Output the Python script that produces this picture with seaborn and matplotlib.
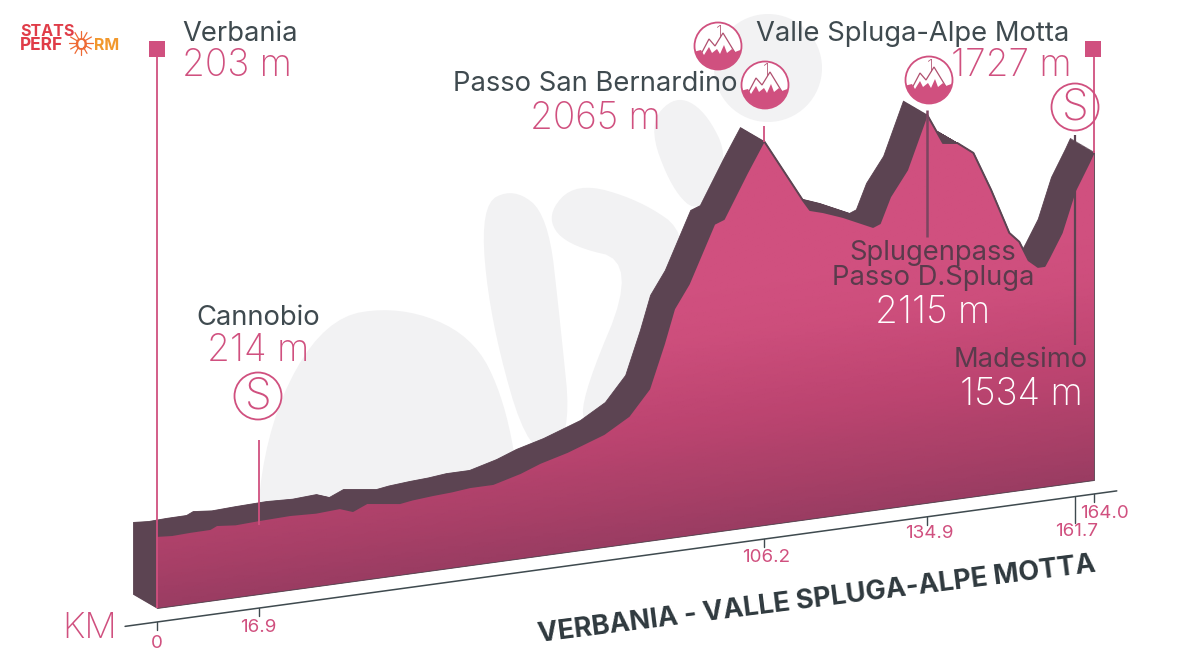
import numpy as np
import pandas as pd
import seaborn as sns
import matplotlib
matplotlib.use("Agg")
import matplotlib.pyplot as plt
from matplotlib.colors import LinearSegmentedColormap, Normalize
from matplotlib.patches import Circle, Polygon, Rectangle
from matplotlib.path import Path
from matplotlib.transforms import Affine2D, blended_transform_factory

# ---------- data ----------
km = [0, 2.5, 5.5, 8.8, 9.9, 13, 16.9, 22.4, 27, 31.2, 33.5, 36, 41.8, 44, 47.7, 51, 54.2, 58.3, 63.1, 66.6, 71.4,
      77.9, 82.3, 85.9, 88.5, 90.3, 92.9, 97.4, 99.1, 103.2, 106.2, 113, 114.3, 116.6, 120.1,
      125.4, 126.6, 128.4, 131.4, 134.9, 137.8, 140.4, 143.3, 146.5, 149.8, 151.6, 153.3, 155, 156.2, 157,
      159.3, 161.7, 163.4, 164]
elevation = [203, 196, 200, 201, 219, 208, 214, 219, 212, 220, 192, 228, 201, 212, 222, 228, 239, 239, 282, 326, 369,
             446, 533, 678, 933, 1134, 1270, 1607, 1628, 1884, 2060, 1678, 1612, 1589, 1544,
             1460, 1476, 1625, 1772, 2085, 1903, 1891, 1819, 1585, 1314, 1253, 1135, 1088, 1088, 1133,
             1272, 1510, 1667, 1727]
tick_km = [0, 16.9, 106.2, 134.9, 161.7, 164.0]
tick_labels = ["0", "16.9", "106.2", "134.9", "161.7", "164.0"]
title = "VERBANIA - VALLE SPLUGA-ALPE MOTTA"

# ---------- style ----------
PINK, DARK, GREY, WMARK = "#d0507f", "#5c4452", "#3f4a4f", "#f2f2f3"
FONT = "Inter"
W, H = 1200, 663
sns.set_theme(style="white")
plt.rcParams["font.family"] = [FONT, "DejaVu Sans"]

fig = plt.figure(figsize=(12, 6.63), dpi=100, facecolor="white")
ax = fig.add_axes([0, 0, 1, 1])
ax.set_axis_off()

# horizontal scale of the artwork: km ticks are not evenly spaced
anchor_km = np.array([-40, 0, 16.9, 106.2, 134.9, 161.7, 164, 200.0])
anchor_px = np.array([-71, 157, 259, 764, 927, 1075, 1094, 1299.0])
fwd = lambda v: np.interp(v, anchor_km, anchor_px)
inv = lambda v: np.interp(v, anchor_px, anchor_km)
ax.set_xscale("function", functions=(fwd, inv))
ax.set_xlim(inv(0.0), inv(float(W)))
# vertical scale: 0.168 px per metre, the floor of the solid at -226 m
PXM = 0.168
FLOOR = -226
ax.set_ylim(FLOOR - (H - 608) / PXM, FLOOR + 608 / PXM)
ax.autoscale(False)

# perspective: the baseline climbs to the right
SHEAR = 0.1366
shear = Affine2D(np.array([[1, 0, 0], [SHEAR, 1, -SHEAR * 157], [0, 0, 1]], float))
tr = ax.transData + shear
pix = Affine2D().scale(1, -1).translate(0, H)
xpix = blended_transform_factory(ax.transData, pix)


def chaikin(pts, n=3):
    p = np.array(pts, float)
    for _ in range(n):
        q = np.roll(p, -1, axis=0)
        p = np.column_stack([0.75 * p + 0.25 * q, 0.25 * p + 0.75 * q]).reshape(-1, 2)
    return p


# ---------- watermark ----------
blobs = [
    [(252, 560), (268, 420), (325, 318), (400, 306), (472, 335), (505, 400), (522, 500), (400, 560)],
    [(514, 188), (480, 205), (490, 320), (530, 460), (572, 440), (560, 320), (548, 215)],
    [(546, 215), (576, 182), (640, 200), (690, 235), (670, 330), (590, 430), (578, 405), (638, 262), (565, 245)],
    [(648, 125), (675, 95), (705, 110), (730, 160), (700, 215), (672, 190)],
]
for b in blobs:
    ax.add_patch(Polygon(chaikin(b), closed=True, fc=WMARK, ec="none", transform=pix, zorder=1))
ax.add_patch(Circle((768, 68), 54, fc=WMARK, ec="none", transform=pix, zorder=1))

# ---------- solid: side band, front face ----------
km_a = np.array(km, float)
el_a = np.array(elevation, float)
for t in np.linspace(0, 1, 30):
    back = tr + Affine2D().translate(-24 * t, 14 * t)
    ax.fill_between(km_a, el_a, FLOOR, color=DARK, lw=0.6, transform=back, zorder=2)

cmap = LinearSegmentedColormap.from_list(
    "stage", [(0, "#9a3c62"), (0.2, "#aa4068"), (0.45, "#bc4470"), (0.8, "#cd4e7c"), (1, "#d0507f")])
gx = np.linspace(0, 164, 40)
gy = np.linspace(FLOOR, 2300, 60)
GX, GY = np.meshgrid(gx, gy)
mesh = ax.pcolormesh(GX, GY, GY, cmap=cmap, norm=Normalize(FLOOR, 1250), shading="gouraud",
                     transform=tr, zorder=3)
outline = np.vstack([np.column_stack([km_a, el_a]), [km_a[-1], FLOOR], [km_a[0], FLOOR], [km_a[0], el_a[0]]])
mesh.set_clip_path(Path(outline), tr)
profile = pd.DataFrame({"km": km_a, "elevation": el_a})
sns.lineplot(data=profile, x="km", y="elevation", color=DARK, lw=1.4, sort=False, errorbar=None,
             legend=False, transform=tr, zorder=4, ax=ax)
ax.set_xlabel("")
ax.set_ylabel("")

# ---------- km axis ----------
AXIS_ELEV = FLOOR - 14 / PXM
ax.plot([-5.6, 168], [AXIS_ELEV, AXIS_ELEV], color=GREY, lw=1.1, transform=tr, zorder=2)
for k in tick_km:
    drop = 26 if k == 161.7 else 8
    ax.plot([k, k], [AXIS_ELEV, AXIS_ELEV - drop / PXM], color=GREY, lw=1.0, transform=tr, zorder=2)
tick_pos = [(157, 643), (258, 628), (766, 557), (929, 534), (1077, 532), (1104, 513)]
for lab, (x, y) in zip(tick_labels, tick_pos):
    ax.text(x, y, lab, transform=pix, ha="center", va="center", color=PINK, fontsize=13.5)

# ---------- climbs and markers ----------
def vline(k, y0, y1, color, lw=1.3, z=5):
    ax.plot([k, k], [y0, y1], color=color, lw=lw, transform=xpix, zorder=z, solid_capstyle="butt")

vline(0, 55, 608, PINK)
vline(164, 55, 153, PINK, z=6)
vline(16.9, 440, 525, PINK)
vline(106.2, 126, 142, PINK)
vline(134.9, 110, 237, "#7c4560", lw=1.8)
vline(161.7, 135, 345, DARK, lw=1.6, z=7)
for cx in (157, 1093):
    ax.add_patch(Rectangle((cx - 8, 41), 16, 16, fc=PINK, ec="none", transform=pix, zorder=6))


def s_badge(cx, cy):
    ax.add_patch(Circle((cx, cy), 23.5, fc="none", ec=PINK, lw=1.3, transform=pix, zorder=8))
    ax.text(cx, cy + 1, "S", transform=pix, ha="center", va="center", color=PINK, fontsize=31,
            fontweight="light", zorder=8)


def peak_icon(cx, cy):
    circ = Circle((cx, cy), 23.5, fc="white", ec=PINK, lw=1.3, transform=pix, zorder=8)
    ax.add_patch(circ)
    o = np.array([cx, cy])
    snow = np.array([(-19, 12), (-9, -7), (-3, 0), (5, -13), (19, 10), (12, 12), (-14, 14)], float)
    ax.add_patch(Polygon(snow + o, closed=True, fc="white", ec="#b0506f", lw=0.9, transform=pix, zorder=9))
    foot = np.array([(-25, 26), (-25, 6), (-17, 4), (-14, 9), (-9, 1), (-6, 7), (-1, 3), (2, 8),
                     (6, -1), (9, 7), (14, 3), (17, 6), (25, 3), (25, 26)], float)
    pg = Polygon(foot + o, closed=True, fc=PINK, ec="none", transform=pix, zorder=10)
    ax.add_patch(pg)
    pg.set_clip_path(Circle((cx, cy), 23.2, transform=pix))
    ax.text(cx + 1, cy - 13, "1", transform=pix, ha="center", va="center", color="#b0506f", fontsize=13,
            fontweight="light", zorder=10)


s_badge(258, 396)
s_badge(1075, 107)
peak_icon(718, 46)
peak_icon(765, 85)
peak_icon(929, 80)

# ---------- labels ----------
NUM = 26.7
def label(x, y, s, color, size=19.7, ha="center", weight="normal", z=11):
    ax.text(x, y + 2, s, transform=pix, ha=ha, va="center", color=color, fontsize=size,
            fontweight=weight, zorder=z)

label(182, 32, "Verbania", GREY, ha="left")
label(182, 64, "203 m", PINK, size=NUM, ha="left", weight="light")
label(595, 82, "Passo San Bernardino", GREY)
label(595, 117, "2065 m", PINK, size=NUM, weight="light")
label(913, 32, "Valle Spluga-Alpe Motta", GREY)
label(1011, 64, "1727 m", PINK, size=NUM, weight="light")
label(258, 316, "Cannobio", GREY)
label(258, 349, "214 m", PINK, size=NUM, weight="light")
label(933, 251, "Splugenpass", "#5a3b4c")
label(933, 276, "Passo D.Spluga", "#5a3b4c")
label(933, 311, "2115 m", "white", size=NUM, weight="light")
label(1021, 358, "Madesimo", "#5a3b4c")
label(1021, 393, "1534 m", "white", size=NUM, weight="light")
label(62, 626, "KM", PINK, size=26, ha="left", weight="light")
ax.text(817, 600, title, transform=pix, ha="center", va="center", rotation=7.2,
        rotation_mode="anchor", color="#2f393e", fontsize=19.5, fontweight="bold", zorder=11)

# ---------- logo ----------
ax.text(20, 31, "STATS", transform=pix, ha="left", va="center", color="#e03c48", fontsize=11.5, fontweight="bold", zorder=11)
ax.text(20, 46, "PERF", transform=pix, ha="left", va="center", color="#e03c48", fontsize=12.5, fontweight="bold", zorder=11)
ax.text(81, 46, "O", transform=pix, ha="center", va="center", color="#ee6a35", fontsize=12, fontweight="bold", zorder=11)
ax.text(119, 46, "RM", transform=pix, ha="right", va="center", color="#f2982c", fontsize=11.5, fontweight="bold", zorder=11)
for ang in np.radians(np.arange(0, 360, 30)):
    ax.plot([81 + 5 * np.cos(ang), 81 + 12 * np.cos(ang)], [43 + 5 * np.sin(ang), 43 + 12 * np.sin(ang)],
            color="#ee6a35", lw=0.9, transform=pix, zorder=10)

fig.savefig("out.png", dpi=100, facecolor="white")
